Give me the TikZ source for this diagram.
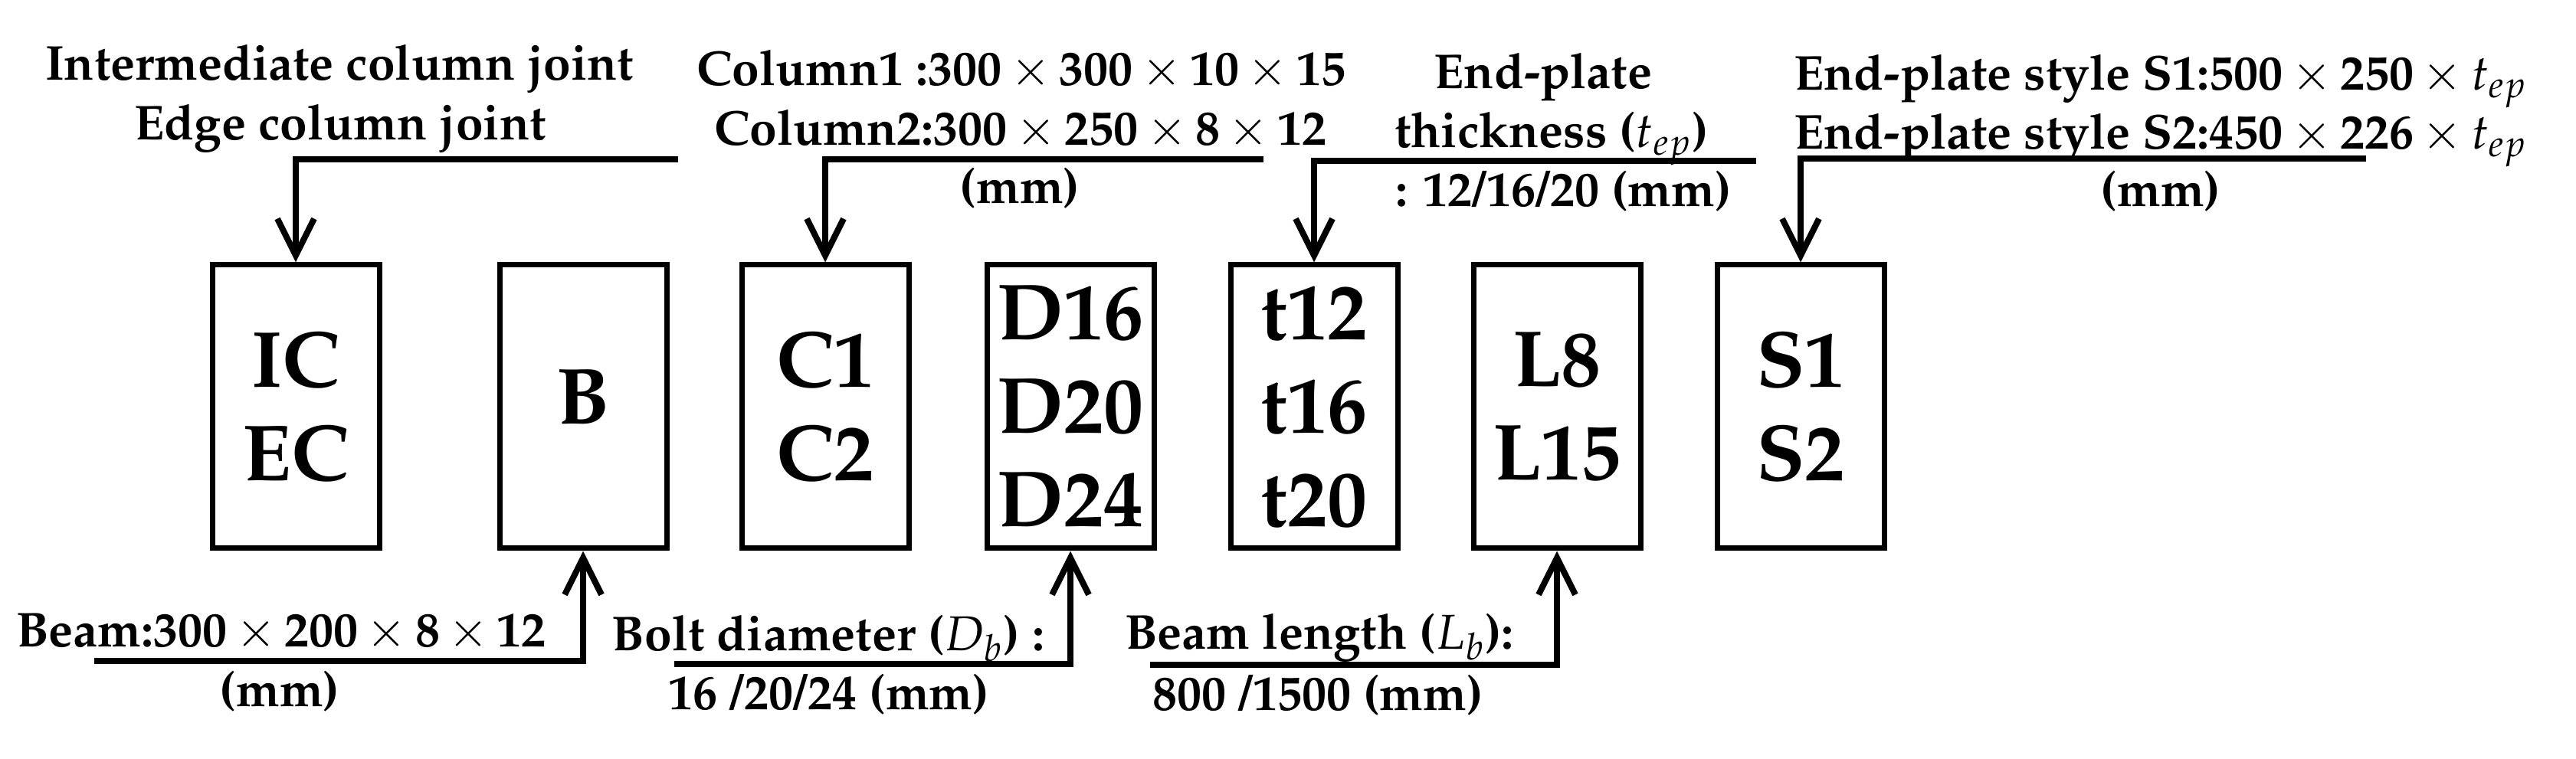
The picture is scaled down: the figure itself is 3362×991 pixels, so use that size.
\documentclass[tikz,border=0pt]{standalone}
\usepackage[T1]{fontenc}
\usepackage{mathpazo}
\usetikzlibrary{arrows.meta}
\begin{document}
\begin{tikzpicture}[x=0.25pt,y=-0.25pt,
  box/.style={draw,line width=1.75pt,minimum width=54.5pt,minimum height=92.5pt,inner sep=0pt,align=center,font=\fontsize{26}{30.5}\selectfont\bfseries},
  lbl/.style={anchor=base,inner sep=0pt,font=\fontsize{16}{19.5}\selectfont\bfseries},
  conn/.style={line width=2pt,-{Straight Barb[length=12pt,width=12pt]}}]
\useasboundingbox (0,0) rectangle (3362,991);
% boxes
\node[box] (IC) at (386,531) {IC\\EC};
\node[box] (B)  at (761,531) {\raisebox{6pt}{B}};
\node[box] (C)  at (1077,531) {C1\\C2};
\node[box] (D)  at (1397,531) {D16\\D20\\D24};
\node[box] (T)  at (1715,531) {t12\\t16\\t20};
\node[box] (L)  at (2032,531) {L8\\L15};
\node[box] (S)  at (2350,531) {S1\\S2};
% top labels
\node[lbl] (ic1) at (443,105) {Intermediate column joint};
\node[lbl] (ic2) at (444,183) {Edge column joint};
\node[lbl] (c1) at (1333,112) {Column1 :300\,$\times$\,300\,$\times$\,10\,$\times$\,15};
\node[lbl] (c2) at (1332,190) {Column2:300\,$\times$\,250\,$\times$\,8\,$\times$\,12};
\node[lbl] (c3) at (1331,266) {(mm)};
\node[lbl] (t1) at (2014,116) {End-plate};
\node[lbl] (t2) at (2025,193) {thickness ($t_{ep}$)};
\node[lbl] (t3) at (2041,270) {: 12/16/20 (mm)};
\node[lbl] (s1) at (2820,118) {End-plate style S1:500\,$\times$\,250\,$\times$\,$t_{ep}$};
\node[lbl] (s2) at (2820,195) {End-plate style S2:450\,$\times$\,226\,$\times$\,$t_{ep}$};
\node[lbl] (s3) at (2820,270) {(mm)};
% bottom labels
\node[lbl] (b1) at (367,845) {Beam:300\,$\times$\,200\,$\times$\,8\,$\times$\,12};
\node[lbl] (b2) at (365,923) {(mm)};
\node[lbl] (d1) at (1081,850) {Bolt diameter ($D_b$) :};
\node[lbl] (d2) at (1082,927) {16 /20/24 (mm)};
\node[lbl] (l1) at (1722,848) {Beam length ($L_b$):};
\node[lbl] (l2) at (1720,928) {800 /1500 (mm)};
% connector free ends
\coordinate (h1) at (885,208);
\coordinate (h2) at (1649,208);
\coordinate (h3) at (2292,210);
\coordinate (h4) at (3088,207);
\coordinate (h5) at (123,863);
\coordinate (h6) at (880,867);
\coordinate (h7) at (1501,868);
\draw[conn] (h1) -| (IC.north);
\draw[conn] (h2) -| (C.north);
\draw[conn] (h3) -| (T.north);
\draw[conn] (h4) -| (S.north);
\draw[conn] (h5) -| (B.south);
\draw[conn] (h6) -| (D.south);
\draw[conn] (h7) -| (L.south);
\end{tikzpicture}
\end{document}
